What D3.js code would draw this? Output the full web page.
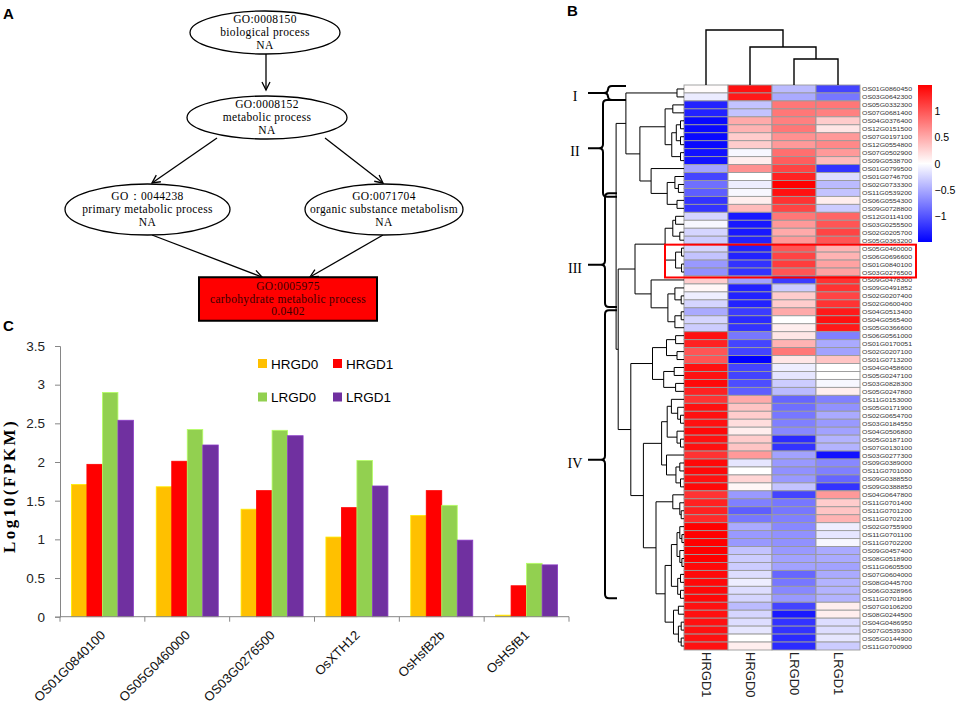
<!DOCTYPE html>
<html><head><meta charset="utf-8">
<script src="https://cdn.jsdelivr.net/npm/d3@7"></script>
<style>body{margin:0;background:#fff} svg{display:block}</style>
</head><body>
<svg id="c" width="964" height="708"></svg>
<script>
// ================= DATA =================
// Panel A – GO graph
const goIds = ["GO:0008150","GO:0008152","GO：0044238","GO:0071704","GO:0005975"];
const goNames = ["biological process","metabolic process","primary metabolic process","organic  substance metabolism","carbohydrate metabolic process"];
const goValues = ["NA","NA","NA","NA","0.0402"];
const goEdges = [[0,1],[1,2],[1,3],[2,4],[3,4]];
const goSignificant = [false,false,false,false,true];

// Panel C – bar chart
const genes = ["OS01G0840100","OS05G0460000","OS03G0276500","OsXTH12","OsHsfB2b","OsHSfB1"];
const samples = ["HRGD0","HRGD1","LRGD0","LRGD1"];
const HRGD0 = [1.71,1.68,1.39,1.03,1.31,0.02];
const HRGD1 = [1.97,2.01,1.63,1.41,1.63,0.40];
const LRGD0 = [2.90,2.42,2.41,2.02,1.44,0.69];
const LRGD1 = [2.54,2.22,2.34,1.69,0.99,0.67];
const barTicks = [0,0.5,1,1.5,2,2.5,3,3.5];

// Panel B – heatmap
const colLabels = ["HRGD1","HRGD0","LRGD0","LRGD1"];
const rowLabels = ["OS01G0860450","OS03G0642300","OS05G0332300","OS07G0681400","OS04G0376400","OS12G0151500","OS07G0197100","OS12G0554800","OS07G0502900","OS09G0538700","OS01G0799500","OS01G0746700","OS02G0733300","OS11G0539200","OS06G0554300","OS09G0728800","OS12G0114100","OS03G0255500","OS02G0205700","OS05G0363200","OS05G0460000","OS06G0696600","OS01G0840100","OS03G0276500","OS09G0478300","OS09G0491852","OS02G0207400","OS02G0600400","OS04G0513400","OS04G0565400","OS05G0366600","OS06G0561000","OS01G0170051","OS02G0207100","OS01G0713200","OS04G0458600","OS05G0247100","OS03G0828300","OS05G0247800","OS11G0153000","OS05G0171900","OS02G0654700","OS03G0184550","OS04G0506800","OS05G0187100","OS07G0130100","OS03G0277300","OS09G0389000","OS11G0701000","OS09G0388550","OS09G0388850","OS04G0647800","OS11G0701400","OS11G0701200","OS11G0702100","OS02G0755900","OS11G0701100","OS11G0702200","OS09G0457400","OS08G0518900","OS11G0605500","OS07G0604000","OS08G0445700","OS06G0328966","OS11G0701800","OS07G0106200","OS08G0244500","OS04G0486950","OS07G0539300","OS05G0144900","OS11G0700900"];
const zHRGD1 = [0.02,-0.12,-1.3,-1.3,-1.45,-1.45,-1.45,-1.45,-1.4,-1.4,-0.55,-1.1,-0.85,-0.95,-1.2,-1.2,-0.25,-0.05,-0.25,-0.3,-0.25,-0.35,-0.6,-0.65,0.3,0.05,-0.1,-0.25,-0.5,-0.25,-0.3,1.4,1.3,1.0,1.0,1.4,1.4,1.45,1.3,1.2,1.4,1.4,1.4,1.45,1.4,1.4,1.2,1.45,1.45,1.4,1.45,1.2,1.3,1.3,1.25,1.5,1.5,1.5,1.5,1.5,1.45,1.45,1.45,1.45,1.45,1.4,1.4,1.4,1.4,1.4,1.4];
const zHRGD0 = [1.4,1.35,-0.35,-0.35,0.5,0.45,0.3,0.3,-0.05,0.1,0.65,0.0,-0.1,-0.05,0.1,0.4,-1.35,-1.35,-1.35,-1.3,-1.3,-1.3,-1.2,-1.2,-0.55,-1.3,-1.3,-1.3,-1.15,-1.25,-1.2,-0.8,-1.1,-1.1,-1.5,-1.1,-1.1,-1.05,-0.95,0.5,0.35,0.3,0.2,0.1,0.3,0.35,0.6,-0.15,0.0,0.25,0.05,-0.6,-0.75,-0.95,-0.8,-0.5,-0.6,-0.6,-0.35,-0.3,-0.3,-0.2,-0.1,-0.2,-0.25,-0.4,-0.25,-0.2,-0.15,0.0,0.1];
const zLRGD0 = [-0.4,-0.5,0.8,0.8,0.75,0.8,0.65,0.6,0.85,0.95,1.1,1.3,1.5,1.4,1.2,1.1,0.8,0.6,0.5,0.6,1.0,1.1,1.15,1.0,-1.15,-0.3,0.3,0.3,0.5,0.0,0.1,0.15,0.45,0.8,0.15,-0.1,-0.15,-0.3,-0.4,-0.9,-0.85,-0.8,-0.75,-0.7,-1.25,-1.2,-0.55,-0.6,-0.65,-0.6,-0.35,-1.1,-0.8,-0.8,-0.75,-0.7,-0.65,-0.65,-0.6,-0.55,-0.55,-0.9,-0.8,-0.7,-0.6,-1.1,-1.35,-1.2,-1.2,-1.25,-1.25];
const zLRGD1 = [-1.1,-0.8,0.8,0.75,0.3,0.15,0.6,0.7,0.6,0.4,-1.2,-0.2,-0.4,-0.35,0.1,-0.3,0.9,1.0,1.1,1.0,0.45,0.45,0.55,0.55,1.2,1.2,1.1,1.2,1.35,1.4,1.35,-0.75,-0.5,-0.55,0.35,0.0,0.0,-0.05,0.1,-0.75,-0.65,-0.5,-0.6,-0.55,-0.45,-0.45,-1.4,-0.7,-0.75,-0.9,-1.2,0.6,0.3,0.35,0.45,-0.1,-0.15,-0.05,-0.5,-0.5,-0.55,-0.5,-0.45,-0.45,-0.45,0.1,0.1,-0.2,-0.2,-0.15,-0.3];
const colorTicks = [1,0.5,0,-0.5,-1];
// dendrograms: [height, child, child]; numbers are leaf indices
const colTree = [55, 0, [38, 1, [26, 2, 3]]];
const rowTree = [9.7,
  [8.3, [1.0,0,1],
        [6.3, [2.7,[1.6,2,3],[1.75,[1.1,[0.5,4,5],[0.5,6,7]],[0.5,8,9]]],
              [4.7,10,[2.4,[1.3,11,[0.8,12,13]],[1.0,14,15]]]]],
  [9.4,
    [7.0, [2.7,[1.6,[1.2,16,17],[0.6,18,19]],[1.2,[0.35,20,21],[0.35,22,23]]],
          [4.7,24,[2.3,[1.3,25,[0.4,26,27]],[1.3,[0.4,28,29],30]]]],
    [7.6, [4.5,[2.5,[1.2,31,32],[1.0,33,34]],[2.9,[1.4,35,36],[1.2,37,38]]],
          [5.8, [3.2,[2.4,[1.8,39,[0.9,40,[0.5,41,42]]],[1.0,43,[0.5,44,45]]],[2.5,46,[1.15,[0.6,47,48],[0.5,49,50]]]],
                [4.0,[1.6,51,[0.6,52,[0.4,53,54]]],
                     [2.7,[1.8,[1.0,[0.6,55,[0.3,56,57]],[0.6,58,[0.3,59,60]]],[0.9,[0.5,61,62],[0.5,63,64]]],
                          [1.5,[0.8,65,66],[0.8,[0.4,67,68],[0.4,69,70]]]]]]]]];
const clusterNames = ["I","II","III","IV"];
const clusterSpan = [[0.13,1.9],[1.9,14.05],[13.6,27.9],[28.3,64.5]]; // in row units
const clusterTip = [1.0,7.95,22.6,47.1];
const highlightRows = [20,23];

// ================= DRAW =================
const svg = d3.select("#c");
const serif = "'Liberation Serif','Times New Roman',serif";
const sans = "'Liberation Sans',Arial,sans-serif";

// panel letters
[["A",3,19],["B",567,16],["C",3,331]].forEach(([t,x,y]) =>
  svg.append("text").attr("x",x).attr("y",y).attr("font-family",sans).attr("font-weight","bold")
     .attr("font-size",15).text(t));

// ---------- Panel A ----------
const defs = svg.append("defs");
defs.append("marker").attr("id","arr").attr("viewBox","-10 -6 12 12").attr("refX",0).attr("refY",0)
  .attr("markerWidth",12).attr("markerHeight",12).attr("markerUnits","userSpaceOnUse").attr("orient","auto")
  .append("path").attr("d","M-8,-4 L0,0 L-8,4").attr("fill","none").attr("stroke","#000").attr("stroke-width",1.3);

const goLayout = [
  {cx:265, cy:32.5, rx:75, ry:21.5},
  {cx:267, cy:117.5, rx:80, ry:21.5},
  {cx:147.5, cy:209.5, rx:82.5, ry:25.5},
  {cx:384, cy:209.5, rx:79, ry:25.5},
  {cx:288, cy:299, w:178, h:43.5}
];
const edgeAnchors = [[266,54,266,90],[217,138,152,183],[325,138,383,183],[152,235,262,277],[383,235,310,277]];
const gA = svg.append("g");
goEdges.forEach((e,i) => {
  const [x1,y1,x2,y2] = edgeAnchors[i];
  gA.append("line").attr("x1",x1).attr("y1",y1).attr("x2",x2).attr("y2",y2)
    .attr("stroke","#000").attr("stroke-width",1.3).attr("marker-end","url(#arr)");
});
goIds.forEach((id,i) => {
  const L = goLayout[i];
  if (goSignificant[i]) {
    gA.append("rect").attr("x",L.cx-L.w/2).attr("y",L.cy-L.h/2).attr("width",L.w).attr("height",L.h)
      .attr("fill","#ff0000").attr("stroke","#000").attr("stroke-width",2);
  } else {
    gA.append("ellipse").attr("cx",L.cx).attr("cy",L.cy).attr("rx",L.rx).attr("ry",L.ry)
      .attr("fill","#fff").attr("stroke","#000").attr("stroke-width",1.3);
  }
  [id, goNames[i], goValues[i]].forEach((t,k) => {
    gA.append("text").attr("x",L.cx).attr("y",L.cy + (k-1)*12.9 + 3.5)
      .attr("text-anchor","middle").attr("font-family",serif).attr("font-size",11.5).attr("letter-spacing",0.35)
      .attr("fill", goSignificant[i] ? "#3a0000" : "#000").text(t);
  });
});

// ---------- Panel C ----------
const gC = svg.append("g");
const x0 = d3.scaleBand().domain(genes).range([60,569]);
const x1 = d3.scaleBand().domain(samples).range([0,x0.bandwidth()]).paddingInner(0).paddingOuter(0.735);
const yB = d3.scaleLinear().domain([0,3.5]).range([616.7,346]);
const barColors = {HRGD0:"#ffc000",HRGD1:"#ff0000",LRGD0:"#92d050",LRGD1:"#7030a0"};
const seriesVals = {HRGD0, HRGD1, LRGD0, LRGD1};
genes.forEach((g,gi) => {
  samples.forEach(s => {
    const v = seriesVals[s][gi];
    gC.append("rect").attr("x",x0(g)+x1(s)).attr("y",yB(v)).attr("width",x1.bandwidth())
      .attr("height",yB(0)-yB(v)).attr("fill",barColors[s])
      .attr("stroke",d3.color(barColors[s]).brighter(0.6)).attr("stroke-width",0.8);
  });
});
const yAx = gC.append("g").attr("transform","translate(60,0)")
  .call(d3.axisLeft(yB).tickValues(barTicks).tickSize(5).tickPadding(10).tickFormat(d3.format("")));
yAx.selectAll("path,line").attr("stroke","#868686");
yAx.selectAll("text").attr("font-family",sans).attr("font-size",13.5).attr("fill","#222");
// x axis
gC.append("line").attr("x1",60).attr("x2",569).attr("y1",yB(0)).attr("y2",yB(0)).attr("stroke","#868686");
genes.concat(["_end"]).forEach((g,i) => {
  const xx = i < genes.length ? x0(g) : 569;
  gC.append("line").attr("x1",xx).attr("x2",xx).attr("y1",yB(0)).attr("y2",yB(0)+5).attr("stroke","#868686");
});
genes.forEach(g => {
  const cx = x0(g) + x0.bandwidth()/2;
  gC.append("text").attr("transform",`translate(${cx+3.6},636) rotate(-45)`)
    .attr("text-anchor","end").attr("font-family",sans).attr("font-size",13).attr("fill","#111").text(g);
});
// y title
gC.append("text").attr("transform","translate(15,486) rotate(-90)").attr("text-anchor","middle")
  .attr("font-family",serif).attr("font-weight","bold").attr("font-size",17).attr("letter-spacing",2.5).text("Log10(FPKM)");
// legend
const legPos = {HRGD0:[258,359],HRGD1:[333,359],LRGD0:[258,392.5],LRGD1:[333,392.5]};
samples.forEach(s => {
  const [lx,ly] = legPos[s];
  gC.append("rect").attr("x",lx).attr("y",ly).attr("width",9).attr("height",9).attr("fill",barColors[s]);
  gC.append("text").attr("x",lx+13).attr("y",ly+9.5).attr("font-family",sans).attr("font-size",13.5).text(s);
});

// ---------- Panel B ----------
const gB = svg.append("g");
const hx = d3.scaleBand().domain(colLabels).range([684,860]);
const hy = d3.scaleBand().domain(d3.range(rowLabels.length)).range([85,650]);
const color = d3.scaleLinear().domain([-1.5,0,1.5]).range(["#0000ff","#ffffff","#ff0000"]).clamp(true);
const zCols = [zHRGD1, zHRGD0, zLRGD0, zLRGD1];
colLabels.forEach((c,j) => {
  rowLabels.forEach((r,i) => {
    gB.append("rect").attr("x",hx(c)).attr("y",hy(i)).attr("width",hx.bandwidth()).attr("height",hy.bandwidth())
      .attr("fill",color(zCols[j][i])).attr("stroke","#9a9a9a").attr("stroke-width",0.9);
  });
});
rowLabels.forEach((r,i) => {
  gB.append("text").attr("x",862).attr("y",hy(i)+hy.bandwidth()/2).attr("dominant-baseline","central")
    .attr("font-family",sans).attr("font-size",6.2).attr("fill","#333")
    .attr("textLength",50).attr("lengthAdjust","spacingAndGlyphs").text(r);
});
colLabels.forEach(c => {
  gB.append("text").attr("transform",`translate(${hx(c)+hx.bandwidth()/2},652) rotate(90)`)
    .attr("dominant-baseline","central").attr("font-family",sans).attr("font-size",13).attr("fill","#222").text(c);
});

// dendrograms
function drawTree(node, leafPos, hs, orient, g, sw) {
  if (typeof node === "number") return {p: leafPos(node), h: 0};
  const [h, a, b] = node;
  const A = drawTree(a, leafPos, hs, orient, g, sw), B = drawTree(b, leafPos, hs, orient, g, sw);
  const d = orient === "row"
    ? `M${hs(A.h)},${A.p}H${hs(h)}V${B.p}H${hs(B.h)}`
    : `M${A.p},${hs(A.h)}V${hs(h)}H${B.p}V${hs(B.h)}`;
  g.append("path").attr("d",d).attr("fill","none").attr("stroke","#000").attr("stroke-width",sw);
  return {p: (A.p+B.p)/2, h};
}
const rowH = d3.scaleLinear().domain([0,10]).range([684,614]);
drawTree(rowTree, i => hy(i)+hy.bandwidth()/2, rowH, "row", gB, 1);
const colH = d3.scaleLinear().domain([0,55]).range([85,30]);
drawTree(colTree, j => hx(colLabels[j])+hx.bandwidth()/2, colH, "col", gB, 1.4);

// highlight box
gB.append("rect").attr("x",665).attr("y",hy(highlightRows[0])+0.5)
  .attr("width",916-665).attr("height",hy(highlightRows[1])+hy.bandwidth()-hy(highlightRows[0])+1)
  .attr("fill","none").attr("stroke","#ff0000").attr("stroke-width",2);

// cluster braces
const rowUnit = v => 85 + v*hy.step();
clusterNames.forEach((n,k) => {
  const y0 = rowUnit(clusterSpan[k][0]), y1 = rowUnit(clusterSpan[k][1]), ym = rowUnit(clusterTip[k]);
  const xr = k===0 ? 626 : 617, xs = k===0 ? 608 : (k===1 ? 603 : 605), xt = 588, r = 4;
  const d = `M${xr},${y0}L${xs+r},${y0}Q${xs},${y0} ${xs},${y0+r}L${xs},${ym-r}Q${xs},${ym} ${xs-r},${ym}L${xt},${ym}`+
            `M${xs-r},${ym}Q${xs},${ym} ${xs},${ym+r}L${xs},${y1-r}Q${xs},${y1} ${xs+r},${y1}L${xr},${y1}`;
  gB.append("path").attr("d",d).attr("fill","none").attr("stroke","#000").attr("stroke-width",2);
  gB.append("text").attr("x",575).attr("y",ym+8).attr("text-anchor","middle")
    .attr("font-family",serif).attr("font-size",14).text(n);
});

// colour bar
const grad = defs.append("linearGradient").attr("id","cb").attr("x1",0).attr("x2",0).attr("y1",1).attr("y2",0);
d3.range(0,1.0001,0.1).forEach(t => grad.append("stop").attr("offset",t).attr("stop-color",color(-1.5+3*t)));
const cbY = d3.scaleLinear().domain([-1.5,1.5]).range([242,85]);
gB.append("rect").attr("x",918).attr("y",cbY(1.5)).attr("width",14).attr("height",cbY(-1.5)-cbY(1.5)).attr("fill","url(#cb)");
colorTicks.forEach(t => {
  gB.append("text").attr("x",934.5).attr("y",cbY(t)).attr("dominant-baseline","central")
    .attr("font-family",sans).attr("font-size",10.5).text(t < 0 ? "\u2212" + Math.abs(t) : String(t));
});
</script>
</body></html>
